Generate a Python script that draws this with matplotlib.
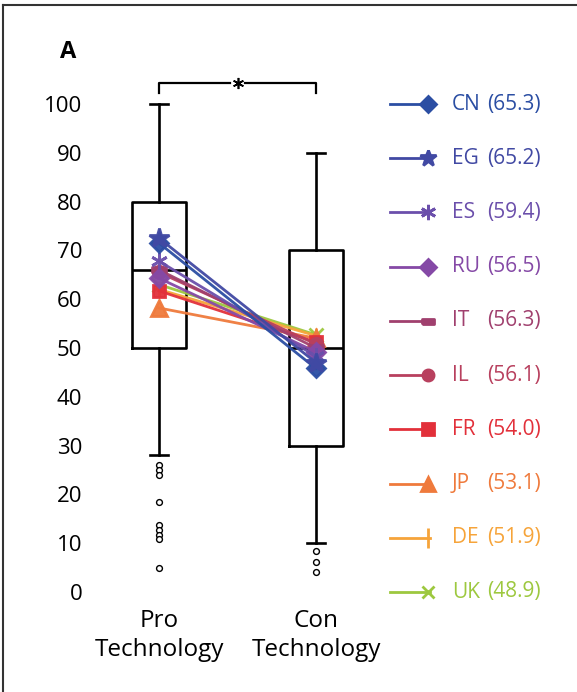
import matplotlib
matplotlib.use("Agg")

import numpy as np
import matplotlib.pyplot as plt
from matplotlib.lines import Line2D

plt.rcParams.update({
    "font.family": ["Open Sans", "DejaVu Sans"],
    "font.size": 16,
})

# --- data ---
groups = ["Pro\nTechnology", "Con\nTechnology"]
box_q1 = [50, 30]
box_med = [66, 50]
box_q3 = [80, 70]
box_lo = [28, 10]
box_hi = [100, 90]
pro_fliers = [26, 25, 24, 18.5, 13.7, 12.7, 11.7, 10.9, 4.9]
con_fliers = [8.3, 6.2, 4.2]

countries = ["CN", "EG", "ES", "RU", "IT", "IL", "FR", "JP", "DE", "UK"]
scores = [65.3, 65.2, 59.4, 56.5, 56.3, 56.1, 54.0, 53.1, 51.9, 48.9]
pro_vals = [71.5, 72.5, 67.8, 64.3, 66.0, 65.5, 61.7, 58.2, 62.0, 63.0]
con_vals = [45.8, 47.0, 48.3, 49.2, 50.0, 50.8, 51.2, 52.0, 52.5, 52.7]
colors = ["#2b4ea3", "#4149a3", "#6b4fab", "#8549a6", "#a0406e",
          "#b8405e", "#e2303a", "#ef7a3c", "#f6a43a", "#9dc83f"]
it_marker = [(-1.0, -0.45), (1.0, -0.45), (1.0, 0.45), (-1.0, 0.45), (-1.0, -0.45)]
markers = ["D", "*", (6, 2, 0), "D", it_marker, "o", "s", "^", "|", "x"]
msizes = [9, 15, 12, 9, 10, 9, 9, 11, 12, 10]
leg_sizes = [8, 12, 11, 8, 8, 8, 8, 10, 14, 9]
draw_order = ["UK", "DE", "JP", "FR", "IL", "IT", "RU", "ES", "CN", "EG"]

W, H = 577, 692
fig = plt.figure(figsize=(W / 100, H / 100), dpi=100)

ylo, yhi = -2, 108
pix_per_unit = 4.88
bottom_px = 592 + (0 - ylo) * pix_per_unit
top_px = 592 - yhi * pix_per_unit
ax = fig.add_axes([96.2 / W, 1 - bottom_px / H, (378.8 - 96.2) / W, (bottom_px - top_px) / H])
ax.set_xlim(0.6, 2.4)
ax.set_ylim(ylo, yhi)

stats = []
for i in range(2):
    stats.append({
        "med": box_med[i], "q1": box_q1[i], "q3": box_q3[i],
        "whislo": box_lo[i], "whishi": box_hi[i],
        "fliers": [pro_fliers, con_fliers][i],
    })
line_kw = dict(color="black", linewidth=1.9)
ax.bxp(stats, positions=[1, 2], widths=0.34, capwidths=0.11,
       boxprops=line_kw, whiskerprops=line_kw, capprops=line_kw, medianprops=line_kw,
       flierprops=dict(marker="o", markersize=4.2, markerfacecolor="white",
                       markeredgecolor="black", markeredgewidth=1.0))

# country lines
for k, c in enumerate(draw_order):
    i = countries.index(c)
    ax.plot([1, 2], [pro_vals[i], con_vals[i]], color=colors[i], linewidth=2.0,
            marker=markers[i], markersize=msizes[i], markeredgewidth=2,
            markeredgecolor=colors[i], markerfacecolor=colors[i], zorder=3 + k * 0.1,
            alpha=0.95)

ax.set_xticks([1, 2])
ax.set_xticklabels(groups, linespacing=1.3, fontsize=17.5)
ax.set_yticks(np.arange(0, 101, 10))
ax.tick_params(length=0, pad=10)
ax.tick_params(axis="x", pad=5)
for s in ax.spines.values():
    s.set_visible(False)

# significance bracket
yb, yt = 102.3, 104.3
ax.plot([1, 1, 1.45], [yb, yt, yt], color="black", linewidth=1.6, clip_on=False)
ax.plot([1.55, 2, 2], [yt, yt, yb], color="black", linewidth=1.6, clip_on=False)
ax.plot([1.5], [yt], marker=(6, 2, 0), color="black", markersize=8, markeredgewidth=1.2,
        clip_on=False)

# legend drawn as its own axes
lax = fig.add_axes([380 / W, 1 - bottom_px / H, 197 / W, (bottom_px - top_px) / H])
lax.set_xlim(0, 197)
lax.set_ylim(ylo, yhi)
lax.axis("off")
rows = np.linspace(100, 0, len(countries))
for i, c in enumerate(countries):
    lax.plot([10, 50], [rows[i], rows[i]], color=colors[i], linewidth=2.0)
    lax.plot([48], [rows[i]], marker=markers[i], markersize=leg_sizes[i],
             color=colors[i], markeredgewidth=2)
    lax.text(72, rows[i], c, color=colors[i], fontsize=15, va="center", ha="left")
    lax.text(161, rows[i], f"({scores[i]:.1f})", color=colors[i], fontsize=15,
             va="center", ha="right")

# panel letter and crop border
fig.text(68 / W, 1 - 52 / H, "A", fontsize=17, fontweight="bold", ha="center", va="center")
fig.add_artist(Line2D([3 / W, 3 / W], [0, 1 - 5 / H], color="#333333", linewidth=1.5))
fig.add_artist(Line2D([3 / W, 1], [1 - 5 / H, 1 - 5 / H], color="#333333", linewidth=1.5))

fig.savefig("out.png", dpi=100)
